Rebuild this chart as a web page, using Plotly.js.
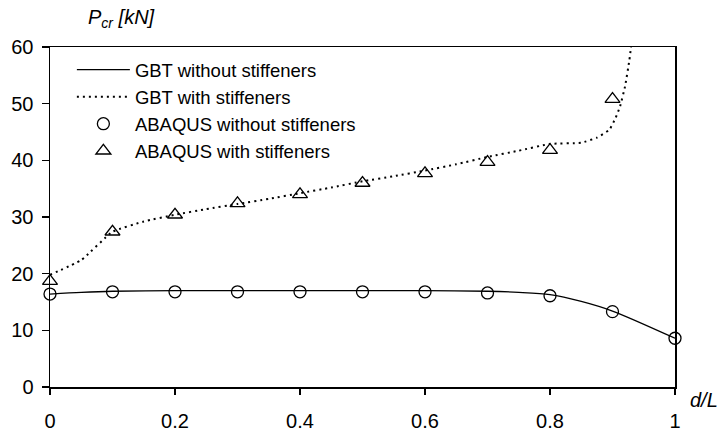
<!DOCTYPE html>
<html>
<head>
<meta charset="utf-8">
<script src="https://cdn.plot.ly/plotly-3.0.1.min.js"></script>
<style>html,body{margin:0;padding:0;background:#fff;}#chart{width:722px;height:431px;}</style>
</head>
<body>
<div id="chart"></div>
<script>
// GBT curves
const gbtNoX = [0, 0.05, 0.1, 0.2, 0.3, 0.4, 0.5, 0.6, 0.7, 0.75, 0.8, 0.85, 0.9, 1.0];
const gbtNoY = [16.4, 16.7, 16.9, 17.0, 17.0, 17.0, 17.0, 17.0, 16.9, 16.7, 16.3, 15.1, 13.4, 8.6];
const gbtWithX = [0, 0.05, 0.1, 0.15, 0.2, 0.25, 0.3, 0.35, 0.4, 0.45, 0.5, 0.55, 0.6, 0.65, 0.7, 0.75, 0.8, 0.85, 0.875, 0.895, 0.905, 0.912, 0.92, 0.927, 0.932];
const gbtWithY = [19.8, 22.4, 27.4, 29.2, 30.4, 31.4, 32.3, 33.2, 34.2, 35.2, 36.3, 37.2, 38.2, 39.3, 40.6, 41.7, 42.9, 43.1, 44.0, 45.4, 47.5, 49.5, 53.0, 57.7, 62];
// ABAQUS points
const abqX = [0, 0.1, 0.2, 0.3, 0.4, 0.5, 0.6, 0.7, 0.8, 0.9, 1.0];
const abqNoY = [16.4, 16.8, 16.8, 16.8, 16.8, 16.8, 16.8, 16.6, 16.1, 13.3, 8.6];
const abqWithX = [0, 0.1, 0.2, 0.3, 0.4, 0.5, 0.6, 0.7, 0.8, 0.9];
const abqWithY = [18.7, 27.4, 30.4, 32.4, 34.0, 36.0, 37.7, 39.7, 41.8, 50.8];
const names = ["GBT without stiffeners", "GBT with stiffeners", "ABAQUS without stiffeners", "ABAQUS with stiffeners"];
const xTicks = [0, 0.2, 0.4, 0.6, 0.8, 1];
const xTickText = ["0", "0.2", "0.4", "0.6", "0.8", "1"];
const yTicks = [0, 10, 20, 30, 40, 50, 60];

const traces = [
  {x: gbtNoX, y: gbtNoY, name: names[0], mode: "lines", line: {color: "#000", width: 1.3, shape: "spline", smoothing: 0.8}},
  {x: gbtWithX, y: gbtWithY, name: names[1], mode: "lines", line: {color: "#000", width: 2, dash: "2px,4px", shape: "spline", smoothing: 0.4}},
  {x: abqX, y: abqNoY, name: names[2], mode: "markers", marker: {symbol: "circle-open", size: 12, color: "#000", line: {width: 1.3, color: "#000"}}, cliponaxis: false},
  {x: abqWithX, y: abqWithY, name: names[3], mode: "markers", marker: {symbol: "triangle-up-open", size: 13, color: "#000", line: {width: 1.3, color: "#000"}}, cliponaxis: false}
];

const layout = {
  width: 722, height: 431,
  margin: {l: 50, r: 47, t: 47, b: 44},
  paper_bgcolor: "#fff", plot_bgcolor: "#fff",
  font: {family: "Liberation Sans, Arial, sans-serif", size: 18, color: "#000"},
  showlegend: true,
  legend: {x: 0.035, y: 0.988, xanchor: "left", yanchor: "top", bgcolor: "rgba(0,0,0,0)", font: {size: 18.5}, tracegroupgap: 0, itemwidth: 53},
  xaxis: {range: [0, 1], tickvals: xTicks, ticktext: xTickText, ticks: "outside", ticklen: 6, tickwidth: 1.5, tickcolor: "#000",
          showline: true, linecolor: "#000", linewidth: 1.5, mirror: true, showgrid: false, zeroline: false, tickfont: {size: 20}, ticklabelstandoff: 9},
  yaxis: {range: [0, 60], tickvals: yTicks, ticks: "outside", ticklen: 7, tickwidth: 1.5, tickcolor: "#000",
          showline: true, linecolor: "#000", linewidth: 1.5, mirror: true, showgrid: false, zeroline: false, tickfont: {size: 20}, ticklabelstandoff: 4},
  annotations: [
    {text: "<i>P<sub>cr</sub> [kN]</i>", xref: "paper", yref: "paper", x: 0, y: 1.0, xshift: 36, yshift: 29, xanchor: "left", yanchor: "middle", showarrow: false, font: {size: 20}},
    {text: "<i>d/L</i>", xref: "paper", yref: "paper", x: 1, y: 0, xshift: 13, yshift: -13, xanchor: "left", yanchor: "middle", showarrow: false, font: {size: 20}}
  ]
};

Plotly.newPlot("chart", traces, layout, {displayModeBar: false, staticPlot: true});
</script>
</body>
</html>
